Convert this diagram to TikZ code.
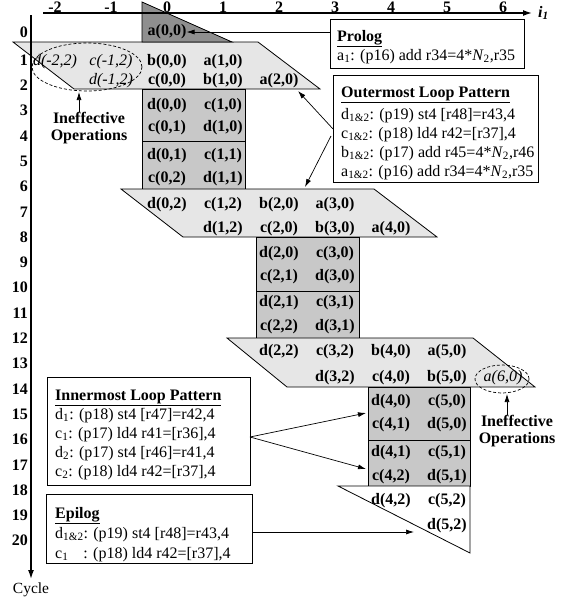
\documentclass[tikz,border=0pt]{standalone}
\usepackage{fontspec}
\setmainfont{Liberation Serif}
\usetikzlibrary{arrows.meta}
\definecolor{pgray}{HTML}{8F8F8F}
\definecolor{bgray}{HTML}{C8C8C8}
\definecolor{lgray}{HTML}{E6E6E6}
\newcommand{\sbx}[1]{\textsubscript{#1}}
\begin{document}
\begin{tikzpicture}[x=1pt,y=-1pt,
  every node/.style={inner sep=0pt},
  cellb/.style={font=\fontsize{16}{18}\selectfont\bfseries},
  celli/.style={font=\fontsize{16}{18}\selectfont\itshape},
  axlab/.style={font=\fontsize{16}{18}\selectfont\bfseries},
  rowlab/.style={axlab, anchor=east},
  boxtxt/.style={font=\fontsize{16}{18}\selectfont, anchor=base west},
  frame/.style={draw, line width=0.9pt, fill=white, anchor=north west},
  shp/.style={draw, line width=0.8pt},
  arr/.style={-{Latex[length=8pt,width=5pt]}, line width=0.7pt},
  axisline/.style={-{Latex[length=9pt,width=6pt]}, line width=1.4pt},
  ineff/.style={dash pattern=on 3pt off 2pt, line width=0.7pt},
  note/.style={font=\fontsize{16}{17}\selectfont\bfseries, align=center},
]
\useasboundingbox (0,0) rectangle (564,600);

% ---- shapes ----
\filldraw[fill=lgray, shp] (13,42) -- (258,42) -- (320,89) -- (74,89) -- cycle;
\filldraw[fill=pgray, shp] (142,2) -- (232,42) -- (142,42) -- cycle;
\filldraw[fill=bgray, shp] (142,89) rectangle (245,189);
\draw[shp] (142,141) -- (245,141);
\filldraw[fill=lgray, shp] (121,189) -- (374,189) -- (437,237) -- (183,237) -- cycle;
\filldraw[fill=bgray, shp] (256,237) rectangle (359,338);
\draw[shp] (256,291) -- (359,291);
\filldraw[fill=lgray, shp] (227,338) -- (473,338) -- (535,387) -- (287,387) -- cycle;
\filldraw[fill=bgray, shp] (368,387) rectangle (470,486);
\draw[shp] (368,440) -- (470,440);
\filldraw[fill=white, shp] (338,486) -- (470,486) -- (470,553) -- cycle;

% ---- axes ----
\coordinate (hx0) at (43,13);
\coordinate (hx1) at (532,13);
\coordinate (vy0) at (31,15);
\coordinate (vy1) at (31,579);
\draw[axisline] (hx0) -- (hx1);
\draw[axisline] (vy0) -- (vy1);
\node[axlab, anchor=base] (xm2) at (55,12) {-2};
\node[axlab, anchor=base] (xm1) at (111,12) {-1};
\node[axlab, anchor=base] (x0) at (167,12) {0};
\node[axlab, anchor=base] (x1) at (223,12) {1};
\node[axlab, anchor=base] (x2) at (279,12) {2};
\node[axlab, anchor=base] (x3) at (335,12) {3};
\node[axlab, anchor=base] (x4) at (391,12) {4};
\node[axlab, anchor=base] (x5) at (447,12) {5};
\node[axlab, anchor=base] (x6) at (503,12) {6};
\node[font=\fontsize{16}{18}\selectfont\bfseries\itshape, anchor=west] (ilab) at (538,13) {i\sbx{1}};
\node[font=\fontsize{15.5}{18}\selectfont] (cyc) at (31,590) {Cycle};

\node[rowlab] (r0) at (28,32) {0};
\foreach \k in {1,...,20} {
  \node[rowlab] (r\k) at (28,{60+25.3*(\k-1)}) {\k};
}

% ---- cells ----
\node[cellb] (a00) at (167,32) {a(0,0)};
\node[celli] (dm22) at (55,62) {d(-2,2)};
\node[celli] (cm12) at (111,62) {c(-1,2)};
\node[cellb] (b00) at (167,62) {b(0,0)};
\node[cellb] (a10) at (223,62) {a(1,0)};
\node[celli] (dm12) at (111,81) {d(-1,2)};
\node[cellb] (c00) at (167,81) {c(0,0)};
\node[cellb] (b10) at (223,81) {b(1,0)};
\node[cellb] (a20) at (279,81) {a(2,0)};
\node[cellb] (d00) at (167,106) {d(0,0)};
\node[cellb] (c10) at (223,106) {c(1,0)};
\node[cellb] (c01) at (167,128) {c(0,1)};
\node[cellb] (d10) at (223,128) {d(1,0)};
\node[cellb] (d01) at (167,156) {d(0,1)};
\node[cellb] (c11) at (223,156) {c(1,1)};
\node[cellb] (c02) at (167,179) {c(0,2)};
\node[cellb] (d11) at (223,179) {d(1,1)};
\node[cellb] (d02) at (167,205) {d(0,2)};
\node[cellb] (c12) at (223,205) {c(1,2)};
\node[cellb] (b20) at (279,205) {b(2,0)};
\node[cellb] (a30) at (335,205) {a(3,0)};
\node[cellb] (d12) at (223,229) {d(1,2)};
\node[cellb] (c20) at (279,229) {c(2,0)};
\node[cellb] (b30) at (335,229) {b(3,0)};
\node[cellb] (a40) at (391,229) {a(4,0)};
\node[cellb] (d20) at (279,254) {d(2,0)};
\node[cellb] (c30) at (335,254) {c(3,0)};
\node[cellb] (c21) at (279,277) {c(2,1)};
\node[cellb] (d30) at (335,277) {d(3,0)};
\node[cellb] (d21) at (279,303) {d(2,1)};
\node[cellb] (c31) at (335,303) {c(3,1)};
\node[cellb] (c22) at (279,327) {c(2,2)};
\node[cellb] (d31) at (335,327) {d(3,1)};
\node[cellb] (d22) at (279,352) {d(2,2)};
\node[cellb] (c32) at (335,352) {c(3,2)};
\node[cellb] (b40) at (391,352) {b(4,0)};
\node[cellb] (a50) at (447,352) {a(5,0)};
\node[cellb] (d32) at (335,378) {d(3,2)};
\node[cellb] (c40) at (391,378) {c(4,0)};
\node[cellb] (b50) at (447,378) {b(5,0)};
\node[celli] (a60) at (503,378) {a(6,0)};
\node[cellb] (d40) at (391,402) {d(4,0)};
\node[cellb] (c50) at (447,402) {c(5,0)};
\node[cellb] (c41) at (391,425) {c(4,1)};
\node[cellb] (d50) at (447,425) {d(5,0)};
\node[cellb] (d41) at (391,453) {d(4,1)};
\node[cellb] (c51) at (447,453) {c(5,1)};
\node[cellb] (c42) at (391,477) {c(4,2)};
\node[cellb] (d51) at (447,477) {d(5,1)};
\node[cellb] (d42) at (391,501) {d(4,2)};
\node[cellb] (c52) at (447,501) {c(5,2)};
\node[cellb] (d52) at (447,526) {d(5,2)};

% ---- ineffective operations ----
\draw[ineff] (87,67) ellipse [x radius=55pt, y radius=24pt];
\draw[ineff] (502,379) ellipse [x radius=27pt, y radius=14pt];
\node[note] (ineL) at (89,128) {Ineffective\\Operations};
\node[note] (ineR) at (517,431) {Ineffective\\Operations};
\coordinate (ieL) at (79,92);
\coordinate (ieR) at (507,394);
\draw[arr] (ineL.north -| ieL) -- (ieL);
\draw[arr] (ineR.north -| ieR) -- (ieR);

% ---- boxes ----
\node[frame, minimum width=194pt, minimum height=49pt] (prolog) at (330,19) {};
\node[boxtxt] (prT) at (337,41) {\underline{\textbf{Prolog}}};
\node[boxtxt] (prL) at (337,60) {a\sbx{1}: (p16) add r34=4*\textit{N}\sbx{2},r35};

\node[frame, minimum width=205pt, minimum height=107pt] (outer) at (333,75) {};
\node[boxtxt] (ouT) at (341,97) {\underline{\textbf{Outermost Loop Pattern}}};
\node[boxtxt] (ou1) at (341,119) {d\sbx{1\&2}: (p19) st4 [r48]=r43,4};
\node[boxtxt] (ou2) at (341,138) {c\sbx{1\&2}: (p18) ld4 r42=[r37],4};
\node[boxtxt] (ou3) at (341,157) {b\sbx{1\&2}: (p17) add r45=4*\textit{N}\sbx{2},r46};
\node[boxtxt] (ou4) at (341,176) {a\sbx{1\&2}: (p16) add r34=4*\textit{N}\sbx{2},r35};

\node[frame, minimum width=203pt, minimum height=108pt] (inner) at (47,377) {};
\node[boxtxt] (inT) at (55,400) {\underline{\textbf{Innermost Loop Pattern}}};
\node[boxtxt] (in1) at (55,419) {d\sbx{1}: (p18) st4 [r47]=r42,4};
\node[boxtxt] (in2) at (55,438) {c\sbx{1}: (p17) ld4 r41=[r36],4};
\node[boxtxt] (in3) at (55,457) {d\sbx{2}: (p17) st4 [r46]=r41,4};
\node[boxtxt] (in4) at (55,476) {c\sbx{2}: (p18) ld4 r42=[r37],4};

\node[frame, minimum width=206pt, minimum height=69pt] (epilog) at (46,494) {};
\node[boxtxt] (epT) at (55,518) {\underline{\textbf{Epilog}}};
\node[boxtxt] (ep1) at (55,538) {d\sbx{1\&2}: (p19) st4 [r48]=r43,4};
\node[boxtxt] (ep2) at (55,558) {c\sbx{1}\hspace{15pt}: (p18) ld4 r42=[r37],4};

% ---- connectors ----
\draw[arr] (prolog.west |- a00.east) -- (a00.east);
\coordinate (oS2) at (331,136);
\coordinate (oT1) at (298,91);
\coordinate (oT2) at (305,187);
\draw[arr] (outer.west) -- (oT1);
\draw[arr] (oS2) -- (oT2);
\coordinate (iS) at (250,437);
\coordinate (iT1) at (366,413);
\coordinate (iT2) at (366,469);
\draw[arr] (iS) -- (iT1);
\draw[arr] (iS) -- (iT2);
\coordinate (eS) at (252,532);
\coordinate (eT) at (414,532);
\draw[arr] (eS) -- (eT);
\end{tikzpicture}
\end{document}
